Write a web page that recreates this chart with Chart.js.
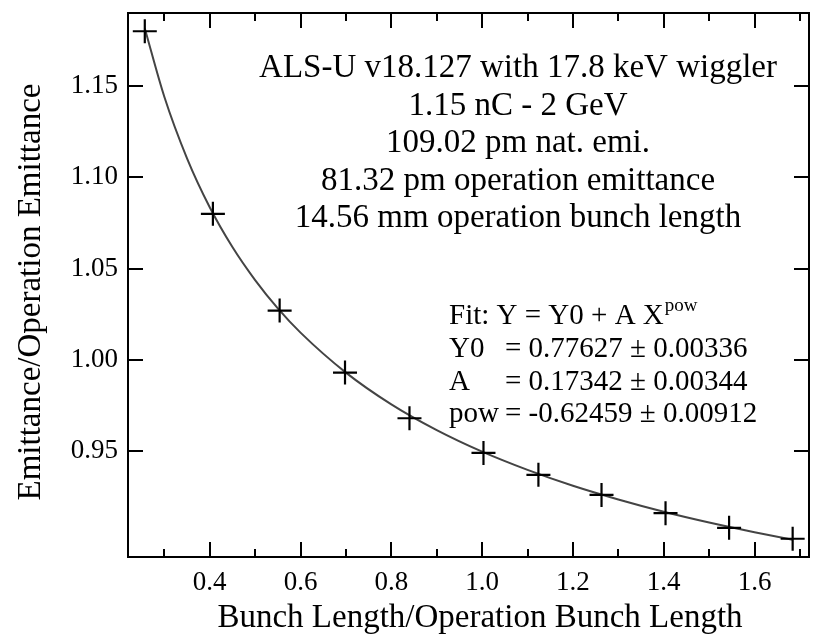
<!DOCTYPE html>
<html>
<head>
<meta charset="utf-8">
<script src="https://cdn.jsdelivr.net/npm/chart.js@4.4.1/dist/chart.umd.min.js"></script>
<style>
  body { margin: 0; background: #fff; }
  canvas { display: block; }
</style>
</head>
<body>
<canvas id="chart" width="817" height="641"></canvas>
<script>
// measured points
const bunchLength = [0.257, 0.407, 0.554, 0.698, 0.840, 1.003, 1.124, 1.263, 1.404, 1.544, 1.684];
const emittance = [1.180, 1.080, 1.027, 0.993, 0.968, 0.949, 0.937, 0.926, 0.916, 0.908, 0.902];

// fit curve
const fitX = [0.257, 0.30, 0.35, 0.40, 0.45, 0.50, 0.55, 0.60, 0.70, 0.80, 0.90, 1.00, 1.10, 1.20, 1.30, 1.40, 1.50, 1.60, 1.684];
const fitY = [1.1815, 1.1441, 1.1104, 1.0836, 1.0618, 1.0437, 1.0282, 1.0149, 0.9930, 0.9756, 0.9615, 0.9497, 0.9397, 0.9310, 0.9235, 0.9168, 0.9109, 0.9056, 0.9015];

const xTicks = [0.4, 0.6, 0.8, 1.0, 1.2, 1.4, 1.6];
const xMinorTicks = [0.3, 0.5, 0.7, 0.9, 1.1, 1.3, 1.5, 1.7];
const yTicks = [0.95, 1.00, 1.05, 1.10, 1.15];

const infoLines = [
  "ALS-U v18.127 with 17.8 keV wiggler",
  "1.15 nC - 2 GeV",
  "109.02 pm nat. emi.",
  "81.32 pm operation emittance",
  "14.56 mm operation bunch length"
];
const fitNames = ["Y0", "A", "pow"];
const fitValues = ["= 0.77627 \u00b1 0.00336", "= 0.17342 \u00b1 0.00344", "= -0.62459 \u00b1 0.00912"];

const serif = "'Liberation Serif', 'Times New Roman', serif";

// no extra room for edge labels, the frame sits where the layout puts it
function noPad(s) {
  s.paddingTop = 0; s.paddingBottom = 0; s.paddingLeft = 0; s.paddingRight = 0;
}

const framePlugin = {
  id: 'frame',
  afterDraw(chart) {
    const ctx = chart.ctx;
    const a = chart.chartArea;
    const xs = chart.scales.x, ys = chart.scales.y;
    ctx.save();
    ctx.strokeStyle = '#000';
    ctx.lineWidth = 2;
    ctx.strokeRect(a.left, a.top, a.right - a.left, a.bottom - a.top);

    // inward ticks on all four sides
    ctx.beginPath();
    xTicks.forEach(v => {
      const px = Math.round(xs.getPixelForValue(v));
      ctx.moveTo(px, a.bottom); ctx.lineTo(px, a.bottom - 15);
      ctx.moveTo(px, a.top); ctx.lineTo(px, a.top + 15);
    });
    xMinorTicks.forEach(v => {
      const px = Math.round(xs.getPixelForValue(v));
      ctx.moveTo(px, a.bottom); ctx.lineTo(px, a.bottom - 8);
      ctx.moveTo(px, a.top); ctx.lineTo(px, a.top + 8);
    });
    yTicks.forEach(v => {
      const py = Math.round(ys.getPixelForValue(v));
      ctx.moveTo(a.left, py); ctx.lineTo(a.left + 15, py);
      ctx.moveTo(a.right, py); ctx.lineTo(a.right - 15, py);
    });
    ctx.stroke();

    ctx.fillStyle = '#000';
    // axis titles
    ctx.font = '33px ' + serif;
    ctx.textAlign = 'center';
    ctx.textBaseline = 'alphabetic';
    ctx.fillText('Bunch Length/Operation Bunch Length', 480, 627);
    ctx.save();
    ctx.translate(40, 292);
    ctx.rotate(-Math.PI / 2);
    ctx.fillText('Emittance/Operation Emittance', 0, 0);
    ctx.restore();

    // info block
    ctx.font = '33px ' + serif;
    infoLines.forEach((t, i) => ctx.fillText(t, 518, 77 + i * 37.5));

    // fit results
    ctx.textAlign = 'left';
    ctx.font = '29px ' + serif;
    const head = 'Fit: Y = Y0 + A X';
    ctx.fillText(head, 449, 324);
    const w = ctx.measureText(head).width;
    ctx.font = '19px ' + serif;
    ctx.fillText('pow', 449 + w + 1, 311);
    ctx.font = '29px ' + serif;
    fitNames.forEach((n, i) => {
      ctx.fillText(n, 449, 357 + i * 32.5);
      ctx.fillText(fitValues[i], 505, 357 + i * 32.5);
    });
    ctx.restore();
  }
};

new Chart(document.getElementById('chart'), {
  type: 'scatter',
  data: {
    datasets: [
      {
        label: 'data',
        data: bunchLength.map((x, i) => ({x: x, y: emittance[i]})),
        pointStyle: 'cross',
        pointRadius: 12,
        pointBorderWidth: 2.2,
        borderColor: '#000',
        backgroundColor: '#000',
        showLine: false,
        clip: false
      },
      {
        label: 'fit',
        data: fitX.map((x, i) => ({x: x, y: fitY[i]})),
        showLine: true,
        borderColor: '#444',
        borderWidth: 2,
        pointRadius: 0,
        cubicInterpolationMode: 'monotone',
        clip: false
      }
    ]
  },
  options: {
    responsive: false,
    animation: false,
    devicePixelRatio: 1,
    layout: { autoPadding: false, padding: { top: 13, right: 8, left: 0, bottom: 0 } },
    plugins: { legend: { display: false }, tooltip: { enabled: false } },
    scales: {
      x: {
        type: 'linear',
        min: 0.22,
        max: 1.72,
        grid: { display: false, drawTicks: false },
        border: { display: false },
        afterBuildTicks: s => { s.ticks = xTicks.map(v => ({value: v})); },
        afterFit: s => { s.height = 84; noPad(s); },
        ticks: {
          padding: 10,
          color: '#000',
          font: { family: serif, size: 27 },
          callback: v => v.toFixed(1)
        }
      },
      y: {
        type: 'linear',
        min: 0.892,
        max: 1.19,
        grid: { display: false, drawTicks: false },
        border: { display: false },
        afterBuildTicks: s => { s.ticks = yTicks.map(v => ({value: v})); },
        afterFit: s => { s.width = 128; noPad(s); },
        ticks: {
          padding: 10,
          color: '#000',
          font: { family: serif, size: 27 },
          callback: v => v.toFixed(2)
        }
      }
    }
  },
  plugins: [framePlugin]
});
</script>
</body>
</html>
